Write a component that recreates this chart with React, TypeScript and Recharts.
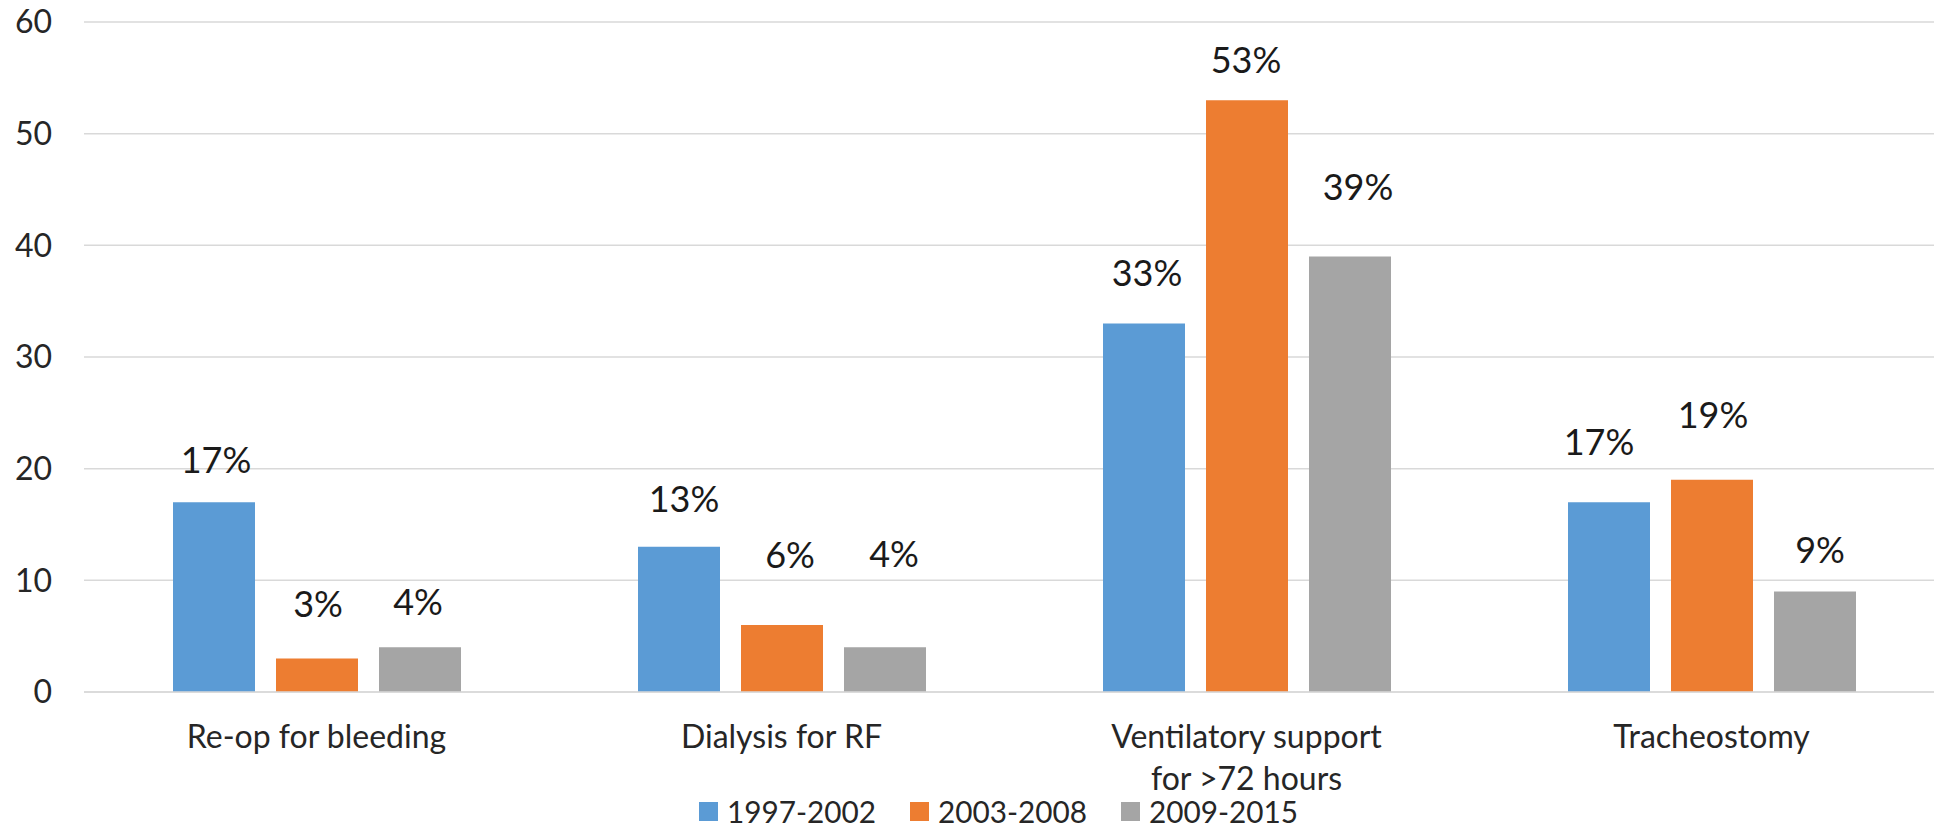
import React from 'react';
import { BarChart, Bar, XAxis, YAxis, CartesianGrid, LabelList, Legend } from 'recharts';

const categories = ['Re-op for bleeding', 'Dialysis for RF', 'Ventilatory support|for >72 hours', 'Tracheostomy'];
const period1 = [17, 13, 33, 17];
const period2 = [3, 6, 53, 19];
const period3 = [4, 4, 39, 9];
const seriesNames = ['1997-2002', '2003-2008', '2009-2015'];
const yTicks = [0, 10, 20, 30, 40, 50, 60];

const colors = ['#5B9BD5', '#ED7D31', '#A5A5A5'];
const FONT = 'Lato, "Open Sans", sans-serif';

// hand-placed label nudges [dx, lift above bar top]
const labelNudge = [
   [[2, 29], [5, 35], [3, 38], [-10, 47]],
   [[1, 42], [8, 57], [-1, 27], [1, 52]],
   [[-2, 32], [9, 80], [8, 57], [5, 29]],
];

const data = categories.map((name, i) => ({
   name,
   p1: period1[i],
   p2: period2[i],
   p3: period3[i],
}));

const makeLabel = (series: number) => (props: any) => {
   const { x, y, width, value, index } = props;
   const [dx, lift] = labelNudge[series][index];
   return (
      <text
         x={x + width / 2 + dx}
         y={y - lift}
         textAnchor="middle"
         fontFamily={FONT}
         fontSize={36}
         fill="#1a1a1a"
      >
         {value}%
      </text>
   );
};

const CategoryTick = (props: any) => {
   const { x, y, payload } = props;
   const lines = String(payload.value).split('|');
   return (
      <text x={x} y={y} textAnchor="middle" fontFamily={FONT} fontSize={32} fill="#262626">
         {lines.map((line, i) => (
            <tspan key={i} x={x} dy={i === 0 ? 56 : 42}>
               {line}
            </tspan>
         ))}
      </text>
   );
};

// legend row: square swatch + slightly condensed label
const LegendRow = () => (
   <svg width={1934} height={32} style={{ display: 'block', overflow: 'visible' }}>
      {seriesNames.map((name, i) => (
         <g key={name} transform={`translate(${699 + i * 211},0)`}>
            <rect x={0} y={5} width={19} height={19} fill={colors[i]} />
            <text
               x={28}
               y={26}
               textLength={149}
               lengthAdjust="spacingAndGlyphs"
               fontFamily={FONT}
               fontSize={31}
               fill="#262626"
            >
               {name}
            </text>
         </g>
      ))}
   </svg>
);

export default function App() {
   return (
      <div style={{ position: 'fixed', left: 0, top: 0, width: 1934, height: 829, overflow: 'hidden', background: '#fff' }}>
         <BarChart
            width={1944}
            height={829}
            data={data}
            margin={{ top: 22, right: 0, left: 0, bottom: 25 }}
            barSize={82}
            barGap={21}
         >
            <CartesianGrid vertical={false} stroke="#d9d9d9" strokeWidth={1.5} />
            <XAxis
               dataKey="name"
               axisLine={{ stroke: '#d9d9d9', strokeWidth: 1.5 }}
               tickLine={false}
               tickSize={0}
               tickMargin={0}
               height={80}
               interval={0}
               tick={<CategoryTick />}
            />
            <YAxis
               width={84}
               domain={[0, 60]}
               ticks={yTicks}
               axisLine={false}
               tickLine={false}
               tickSize={0}
               tickMargin={32}
               tick={{ fontFamily: FONT, fontSize: 32, fill: '#262626' }}
            />
            <Legend
               verticalAlign="bottom"
               content={<LegendRow />}
               wrapperStyle={{ left: 0, top: 797, bottom: 'auto', width: 1934, height: 32 }}
            />
            <Bar dataKey="p1" name={seriesNames[0]} fill={colors[0]} isAnimationActive={false}>
               <LabelList dataKey="p1" content={makeLabel(0)} />
            </Bar>
            <Bar dataKey="p2" name={seriesNames[1]} fill={colors[1]} isAnimationActive={false}>
               <LabelList dataKey="p2" content={makeLabel(1)} />
            </Bar>
            <Bar dataKey="p3" name={seriesNames[2]} fill={colors[2]} isAnimationActive={false}>
               <LabelList dataKey="p3" content={makeLabel(2)} />
            </Bar>
         </BarChart>
      </div>
   );
}
